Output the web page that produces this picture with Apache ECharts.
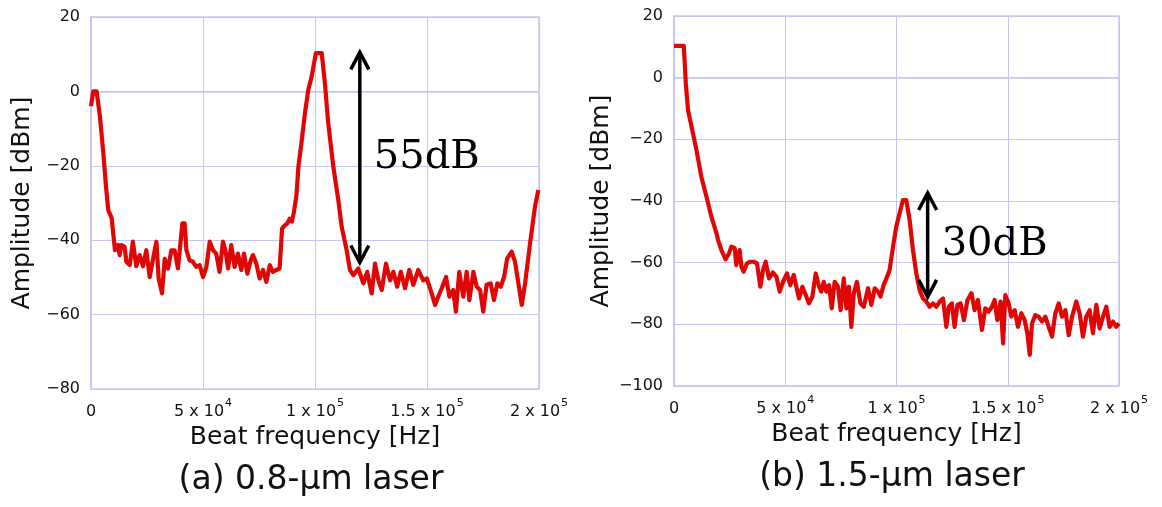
<!DOCTYPE html>
<html>
<head>
<meta charset="utf-8">
<script src="https://cdn.jsdelivr.net/npm/echarts@6/dist/echarts.min.js"></script>
<style>
html,body{margin:0;padding:0;background:#fff;}
#chart{width:1162px;height:507px;}
</style>
</head>
<body>
<div id="chart"></div>
<script>
// ---------- data ----------
const freqA = [0,1000,2500,4000,5500,6700,7700,9200,10700,12100,12800,13500,15000,15800,17300,18700,20200,21700,23200,24700,26200,27700,29200,30200,31700,32900,34400,35900,37300,38800,40800,41800,42600,44000,45500,47000,48500,50000,51500,53000,54500,55900,57400,58900,60000,61200,62600,64100,65600,67100,68300,69800,71300,72300,73800,75300,76800,78300,79800,81200,82700,84200,85300,86500,87600,88700,89700,90600,91700,92600,94100,95500,97000,98500,100400,103000,104500,105900,108200,110400,111900,114100,115600,117100,119300,121600,123300,125300,126800,128300,129800,131700,133500,135000,136700,138300,140200,142100,143900,146100,148300,149900,152100,153600,155000,156600,158500,160000,161700,162900,164400,166200,167700,168900,170700,172200,173700,175100,176600,178400,179900,181400,182900,184400,185800,187800,189300,190800,192300,193800,196000,198200,199700];
const ampA = [-4,0,0,-6.8,-16.6,-25.6,-31.9,-34,-42.7,-41.3,-44,-41.3,-41.8,-45.8,-46.7,-40.4,-47,-44,-47,-42.7,-49.9,-45,-40.4,-50.3,-54.3,-45,-47.6,-42.7,-42.7,-47.6,-35.5,-35.5,-42.7,-45.4,-45.8,-47.2,-46.7,-49.9,-47.2,-40.4,-42.7,-43.6,-48.5,-40.4,-42.7,-47.6,-41.3,-47.2,-43.6,-48,-43.6,-49,-45.4,-44,-46.3,-50.3,-48,-51.2,-46.7,-48.5,-48,-47.6,-36.9,-36,-35.5,-34.2,-35,-32.4,-28,-20.2,-13.1,-5.9,0.4,4,10.3,10.3,1.7,-8.5,-20.3,-29.2,-36.4,-42.6,-48,-49.4,-47.6,-51.6,-48.5,-54.3,-46.3,-50.8,-53.4,-46.3,-50.8,-48.5,-52.5,-48.5,-52.9,-48,-52,-48,-50.8,-50.3,-54.3,-57.4,-55.2,-52.9,-49.9,-55.2,-53.4,-59.2,-48.5,-55.2,-48.5,-56.1,-48.5,-52.5,-53.4,-59.2,-52,-51.6,-56.1,-51.6,-52.5,-49.9,-44.9,-43.1,-45.8,-51.6,-57.4,-51.6,-40.9,-31,-26.5];

const freqB = [0,4400,5300,6300,8500,10100,12300,14600,16800,19100,19800,21300,23200,24700,25800,27300,28000,29500,30300,31300,32800,34300,35800,37300,38800,40000,41200,42700,44500,46000,47500,49000,50800,52300,53800,55000,56200,57700,59200,60700,62200,63700,65200,66200,67300,68500,69700,70900,72200,73700,74900,76300,77500,78600,79700,80800,82200,83800,85300,87200,88700,90200,91700,92800,94200,95500,96900,98400,99900,101000,102900,104400,105900,107400,108900,110400,111900,113400,114900,116400,117900,119400,120900,122400,123500,124900,126100,127400,128800,130300,131900,133700,135100,136600,138400,139900,141400,142900,144100,145300,146800,147900,148900,150400,151600,153100,154600,156100,157600,158800,159900,160900,162400,163900,165400,166900,168400,169900,171400,172900,174400,175900,177400,178900,180800,182300,183800,185300,186800,188300,189800,191300,192800,194300,195800,197300,198800,200000];
const ampB = [10.3,10.3,-1.8,-10.5,-18,-23.5,-32.2,-38.6,-45.1,-50.5,-52.6,-55.9,-58.9,-57,-54.8,-55.3,-60.8,-55.9,-61.3,-62.9,-60.2,-59.7,-59.7,-60.2,-67.8,-62.4,-59.7,-65.1,-63.2,-64.5,-69.4,-66.2,-63.5,-67.3,-64,-67.8,-71.6,-67.8,-70.5,-73.2,-71,-63.5,-67.8,-69.4,-66.2,-69.4,-67.3,-74.8,-66.2,-67.8,-75.4,-65.1,-74.8,-67.8,-80.8,-70,-66.2,-73.2,-74.3,-68.3,-73.7,-68.3,-69.4,-71,-67.3,-65.1,-62.4,-55,-48.3,-45.1,-39.7,-39.7,-46.2,-55.9,-63.5,-68.9,-71.6,-72.6,-74.3,-73.2,-74.3,-72.6,-71.6,-80.8,-74.3,-73.2,-80.8,-73.7,-73.2,-78.6,-72.1,-69.9,-75.4,-72.1,-81.8,-74.8,-75.9,-74.3,-72.1,-78.6,-72.6,-86.2,-70.5,-73.2,-77.5,-75.4,-80.8,-76.4,-78.6,-82.9,-89.9,-79.7,-77,-77.5,-79.1,-77.5,-80.8,-84,-76.4,-73.2,-77.5,-75.4,-83.5,-77.5,-72.6,-76.4,-84,-77.5,-75.4,-82.9,-73.7,-81.3,-77.5,-74.3,-80.8,-79.1,-80.8,-79.7];

// annotation arrows: [frequency, top dBm, bottom dBm]
const arrowA = [120000, 10.5, -46];
const arrowB = [114000, -37.4, -71.1];
const arrowLabels = ['55dB', '30dB'];

// tick labels
const xTickValues = [0, 50000, 100000, 150000, 200000];
const xTickMantissa = ['0', '5', '1', '1.5', '2'];
const xTickExponent = ['', '4', '5', '5', '5'];

const xAxisName = 'Beat frequency [Hz]';
const yAxisName = 'Amplitude [dBm]';
const captions = ['(a) 0.8-\u03bcm laser', '(b) 1.5-\u03bcm laser'];

// ---------- chart ----------
const FONT = 'DejaVu Sans';
const gridColor = '#c6c6f2';
const lineColor = '#e00606';

function zip(xs, ys) { return xs.map((x, i) => [x, ys[i]]); }

function xLabel(v) {
  const i = xTickValues.indexOf(v);
  if (i < 0) return '';
  if (!xTickExponent[i]) return '{b|' + xTickMantissa[i] + '}';
  return '{b|' + xTickMantissa[i] + ' x 10}{s|' + xTickExponent[i] + '}';
}
function yLabel(v) { return String(v).replace('-', '\u2212'); }

function makeX(gi) {
  return {
    type: 'value', gridIndex: gi, min: 0, max: 200000, interval: 50000,
    name: xAxisName, nameLocation: 'middle', nameGap: 35,
    nameTextStyle: { fontFamily: FONT, fontSize: 25, color: '#111' },
    axisLine: { lineStyle: { color: gridColor, width: 1.5 } },
    axisTick: { show: false },
    splitLine: { show: true, lineStyle: { color: gridColor, width: 1 } },
    axisLabel: {
      margin: 9, formatter: xLabel,
      rich: {
        b: { fontFamily: FONT, fontSize: 16, color: '#111', lineHeight: 22, verticalAlign: 'bottom' },
        s: { fontFamily: FONT, fontSize: 11, color: '#111', lineHeight: 22, verticalAlign: 'top', padding: [0, 0, 0, 1] }
      }
    }
  };
}
function makeY(gi, min, gap) {
  return {
    type: 'value', gridIndex: gi, min: min, max: 20, interval: 20,
    name: yAxisName, nameLocation: 'middle', nameGap: gap,
    nameTextStyle: { fontFamily: FONT, fontSize: 25, color: '#111' },
    axisLine: { show: true, lineStyle: { color: gridColor, width: 1.5 } },
    axisTick: { show: false },
    splitLine: { show: true, lineStyle: { color: gridColor, width: 1 } },
    axisLabel: { margin: 11, formatter: yLabel, fontFamily: FONT, fontSize: 16, color: '#111' }
  };
}

function arrowRender(label) {
  return function (params, api) {
    const x = api.value(0);
    const p1 = api.coord([x, api.value(1)]);
    const p2 = api.coord([x, api.value(2)]);
    const hw = 9, hh = 17;
    const st = { stroke: '#000', lineWidth: 3.5, fill: null, lineJoin: 'miter' };
    return {
      type: 'group',
      children: [
        { type: 'line', shape: { x1: p1[0], y1: p1[1] + 1, x2: p2[0], y2: p2[1] - 1 }, style: st },
        { type: 'polyline', shape: { points: [[p1[0] - hw, p1[1] + hh], [p1[0], p1[1]], [p1[0] + hw, p1[1] + hh]] }, style: st },
        { type: 'polyline', shape: { points: [[p2[0] - hw, p2[1] - hh], [p2[0], p2[1]], [p2[0] + hw, p2[1] - hh]] }, style: st },
        { type: 'text', x: p1[0] + 14, y: (p1[1] + p2[1]) / 2,
          style: { text: label, fill: '#000', font: '40px "DejaVu Serif"', textAlign: 'left', textVerticalAlign: 'middle' } }
      ]
    };
  };
}

const chart = echarts.init(document.getElementById('chart'), null, { renderer: 'canvas' });
chart.setOption({
  animation: false,
  backgroundColor: '#fff',
  grid: [
    { left: 91, top: 17, width: 448, height: 372, show: true, borderColor: gridColor, borderWidth: 1.5, backgroundColor: 'transparent' },
    { left: 674, top: 16, width: 445, height: 370, show: true, borderColor: gridColor, borderWidth: 1.5, backgroundColor: 'transparent' }
  ],
  xAxis: [makeX(0), makeX(1)],
  yAxis: [makeY(0, -80, 56), makeY(1, -100, 60)],
  series: [
    { type: 'line', xAxisIndex: 0, yAxisIndex: 0, data: zip(freqA, ampA), showSymbol: false,
      lineStyle: { color: lineColor, width: 4.2, join: 'round' }, itemStyle: { color: lineColor } },
    { type: 'line', xAxisIndex: 1, yAxisIndex: 1, data: zip(freqB, ampB), showSymbol: false,
      lineStyle: { color: lineColor, width: 4.2, join: 'round' }, itemStyle: { color: lineColor } },
    { type: 'custom', xAxisIndex: 0, yAxisIndex: 0, data: [arrowA], encode: { x: 0, y: [1, 2] },
      renderItem: arrowRender(arrowLabels[0]), clip: false, z: 5 },
    { type: 'custom', xAxisIndex: 1, yAxisIndex: 1, data: [arrowB], encode: { x: 0, y: [1, 2] },
      renderItem: arrowRender(arrowLabels[1]), clip: false, z: 5 }
  ],
  graphic: [
    { type: 'text', x: 311, y: 480, style: { text: captions[0], font: '33px "DejaVu Sans"', fill: '#111', textAlign: 'center', textVerticalAlign: 'middle' } },
    { type: 'text', x: 892, y: 477, style: { text: captions[1], font: '33px "DejaVu Sans"', fill: '#111', textAlign: 'center', textVerticalAlign: 'middle' } }
  ]
});
</script>
</body>
</html>
